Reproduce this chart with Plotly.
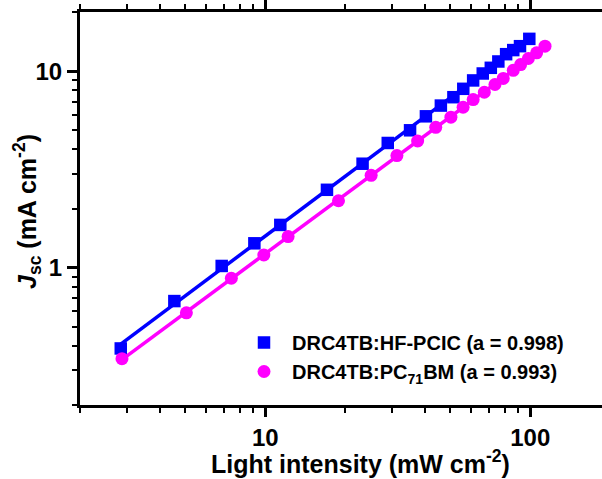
import numpy as np
import plotly.graph_objects as go

# Data (light intensity in mW cm^-2, Jsc in mA cm^-2)
intensity_hf = [2.85, 4.54, 6.85, 9.1, 11.4, 17.1, 23.3, 29.0, 35.2, 40.4, 46.0,
                51.3, 55.9, 60.9, 66.2, 71.0, 75.8, 81.1, 86.3, 91.5, 99.2]
jsc_hf = [0.388, 0.676, 1.02, 1.33, 1.65, 2.49, 3.38, 4.31, 5.0, 5.89, 6.68,
          7.37, 8.13, 8.97, 9.73, 10.4, 11.2, 12.2, 12.8, 13.4, 14.6]

intensity_pc = [2.88, 5.04, 7.45, 9.88, 12.2, 18.9, 25.1, 31.4, 37.6, 44.0, 50.2,
                55.8, 60.9, 67.1, 73.6, 79.1, 86.3, 92.0, 98.4, 105.7, 113.7]
jsc_pc = [0.344, 0.589, 0.883, 1.16, 1.44, 2.19, 2.95, 3.72, 4.41, 5.18, 5.83,
          6.55, 7.17, 7.81, 8.55, 9.18, 10.1, 10.8, 11.6, 12.4, 13.4]

legend_hf = "DRC4TB:HF-PCIC (a = 0.998)"
legend_pc = "DRC4TB:PC<sub>71</sub>BM (a = 0.993)"

y_major = [1, 10]
y_major_text = ["1", "10"]
y_minor = [0.2, 0.3, 0.4, 0.5, 0.6, 0.7, 0.8, 0.9, 2, 3, 4, 5, 6, 7, 8, 9, 20]
x_major = [10, 100]
x_major_text = ["10", "100"]
x_minor = [2, 3, 4, 5, 6, 7, 8, 9, 20, 30, 40, 50, 60, 70, 80, 90, 200]

BLUE = "#0000FF"
MAGENTA = "#FF00FF"
FONT = "Arial, Liberation Sans, sans-serif"


def fit_line(x, y):
    lx, ly = np.log10(x), np.log10(y)
    a, b = np.polyfit(lx, ly, 1)
    return list(x), list(10 ** (a * lx + b))


fig = go.Figure()

for xs, ys, col in [(intensity_hf, jsc_hf, BLUE), (intensity_pc, jsc_pc, MAGENTA)]:
    fx, fy = fit_line(np.array(xs), np.array(ys))
    fig.add_trace(go.Scatter(x=fx, y=fy, mode="lines", line=dict(color=col, width=3.5),
                             showlegend=False, hoverinfo="skip"))

fig.add_trace(go.Scatter(x=intensity_hf, y=jsc_hf, mode="markers", name=legend_hf,
                         marker=dict(symbol="square", size=12.5, color=BLUE)))
fig.add_trace(go.Scatter(x=intensity_pc, y=jsc_pc, mode="markers", name=legend_pc,
                         marker=dict(symbol="circle", size=13, color=MAGENTA)))

W, H = 602, 479
L, T, B, R = 80, 12, 74, 0
x_lo, x_hi = np.log10(2), 0.30103 + 522 / 265.0
y_lo, y_hi = np.log10(0.2), np.log10(20)

fig.update_layout(
    width=W, height=H,
    margin=dict(l=L, r=R, t=T, b=B),
    paper_bgcolor="white", plot_bgcolor="white",
    font=dict(family=FONT, color="black"),
    showlegend=True,
    legend=dict(x=(236 - L) / (W - L - R), y=(H - B - 323) / (H - T - B),
                xanchor="left", yanchor="top",
                bgcolor="rgba(0,0,0,0)",
                font=dict(family=FONT, size=20, color="black", weight="bold"),
                itemwidth=46, tracegroupgap=0),
    xaxis=dict(type="log", range=[x_lo, x_hi],
               showgrid=False, zeroline=False,
               showline=True, linecolor="black", linewidth=3, mirror="ticks",
               tickmode="array", tickvals=x_major, ticktext=x_major_text,
               ticks="outside", ticklen=9, tickwidth=2.5, tickcolor="black",
               tickfont=dict(family=FONT, size=24, color="black", weight="bold"),
               minor=dict(tickmode="array", tickvals=x_minor, ticks="outside",
                          ticklen=5, tickwidth=2, tickcolor="black", showgrid=False)),
    yaxis=dict(type="log", range=[y_lo, y_hi],
               showgrid=False, zeroline=False,
               showline=True, linecolor="black", linewidth=3, mirror=False,
               tickmode="array", tickvals=y_major, ticktext=y_major_text,
               ticks="outside", ticklen=10, tickwidth=2.5, tickcolor="black",
               tickfont=dict(family=FONT, size=24, color="black", weight="bold"),
               minor=dict(tickmode="array", tickvals=y_minor, ticks="outside",
                          ticklen=5, tickwidth=2, tickcolor="black", showgrid=False)),
    annotations=[
        dict(text="Light intensity (mW cm<sup>-2</sup>)", xref="paper", yref="paper",
             x=(360 - L) / (W - L - R), y=(H - B - 462) / (H - T - B),
             xanchor="center", yanchor="middle", showarrow=False,
             font=dict(family=FONT, size=25, color="black", weight="bold")),
        dict(text="<i>J</i><sub>sc</sub> (mA cm<sup>-2</sup>)", xref="paper", yref="paper",
             x=(27 - L) / (W - L - R), y=(H - B - 212) / (H - T - B),
             xanchor="center", yanchor="middle", showarrow=False, textangle=-90,
             font=dict(family=FONT, size=25, color="black", weight="bold")),
    ],
)

fig.write_html("out.html")
